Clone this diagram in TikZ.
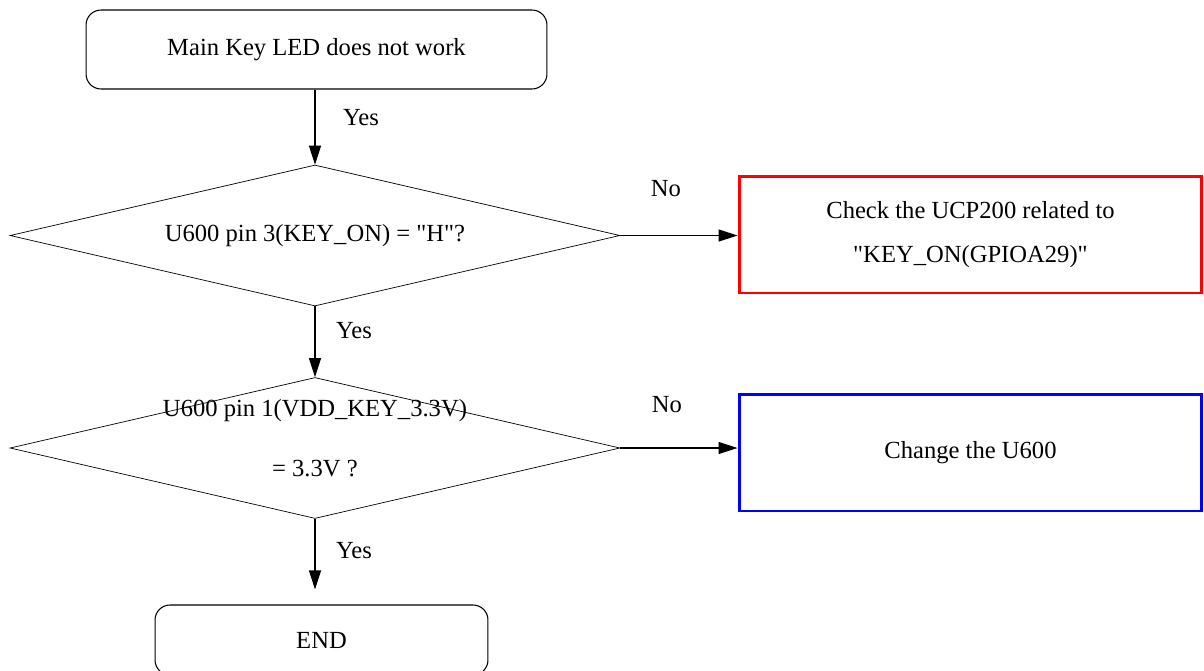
\documentclass[tikz,border=0pt]{standalone}
\usepackage{fontspec}
\setmainfont{Liberation Serif}
\usetikzlibrary{shapes,arrows.meta,positioning,calc}

\begin{document}
\begin{tikzpicture}[x=0.02cm,y=-0.02cm,
    every node/.style={font=\fontsize{14}{18}\selectfont},
    terminal/.style={draw, rounded corners=0.3cm, line width=0.6pt, minimum height=1.58cm},
    decision/.style={draw, diamond, aspect=4.33, line width=0.4pt, inner sep=0pt, minimum width=12.2cm, minimum height=2.82cm, align=center},
    checkbox/.style={draw, line width=1.7pt, minimum width=9.26cm, minimum height=2.34cm, align=center},
    flow/.style={-{Triangle[length=0.38cm,width=0.24cm]}, line width=0.6pt}]
    \useasboundingbox (0,0) rectangle (1204,670);

    \node[terminal, minimum width=9.22cm] (start) at (316.5,49.5) {Main Key LED does not work};
    \node[decision] (keyon) at (315,235.5) {U600 pin 3(KEY\_ON) = \textquotedbl H\textquotedbl ?};
    \node[decision, label={[align=center, yshift=0.2cm]center:U600 pin 1(VDD\_KEY\_3.3V)\\[16pt] = 3.3V ?}] (vdd) at (315,448) {};
    \node[terminal, minimum width=6.66cm, minimum height=1.4cm] (finish) at (321.5,640) {END};

    \node[checkbox, draw=red] (checkucp) at (970.5,234.5) {Check the UCP200 related to\\[7pt] \textquotedbl KEY\_ON(GPIOA29)\textquotedbl};
    \node[checkbox, draw=blue] (change) at (970.5,452.5) {Change the U600};

    \draw[flow] (start.south -| keyon.north) -- (keyon.north);
    \draw[flow] (keyon.east) -- (keyon.east -| checkucp.west);
    \draw[flow] (keyon.south) -- (vdd.north);
    \draw[flow] (vdd.east) -- (vdd.east -| change.west);
    \draw[flow, shorten >=0.3cm] (vdd.south) -- (vdd.south |- finish.north);

    \node (yes1) at (361,118) {Yes};
    \node (yes2) at (354,331) {Yes};
    \node (yes3) at (354,551) {Yes};
    \node (no1) at (666,189) {No};
    \node (no2) at (667,405) {No};
\end{tikzpicture}
\end{document}
